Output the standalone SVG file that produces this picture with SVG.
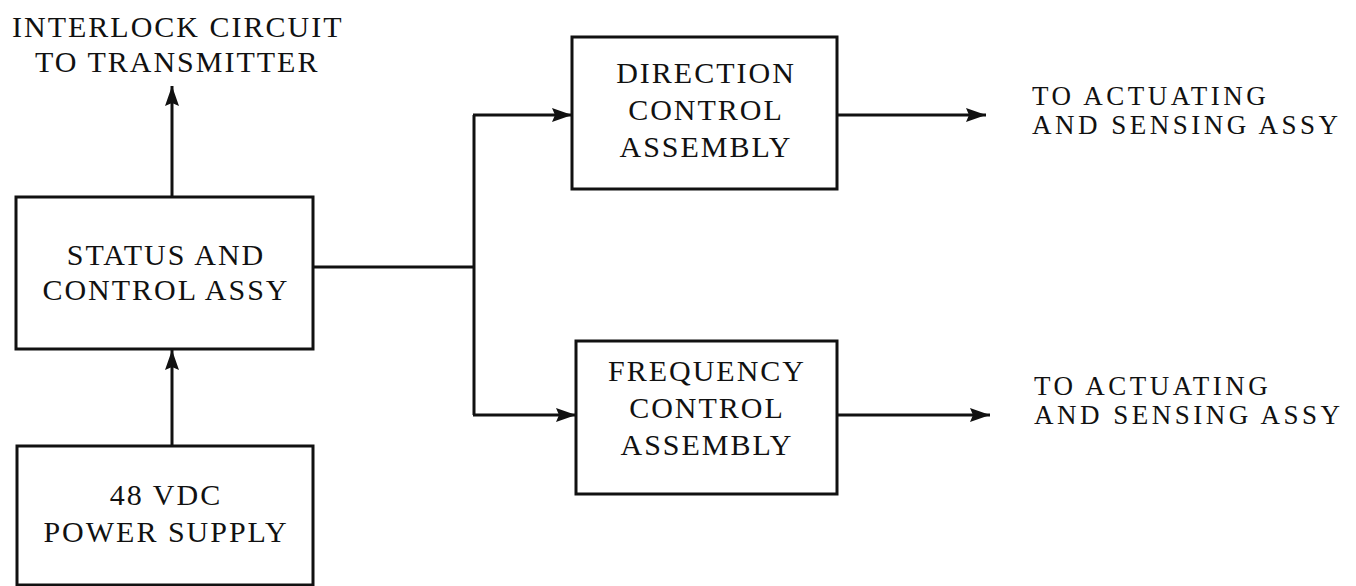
<svg xmlns="http://www.w3.org/2000/svg" width="1356" height="586" viewBox="0 0 1356 586">
<defs>
<marker id="ah" markerWidth="22" markerHeight="16" refX="20" refY="8" orient="auto" markerUnits="userSpaceOnUse">
<path d="M0,1 L20,8 L0,15 L3,8 Z" fill="#111"/>
</marker>
<style>
.box{fill:#fff;stroke:#111;stroke-width:3}
.ln{fill:none;stroke:#111;stroke-width:3}
text{font-family:"Liberation Serif","Times New Roman",serif;font-size:30px;fill:#111;letter-spacing:2px}
.c{text-anchor:middle}
.lab{font-size:27px;letter-spacing:3.5px}
</style>
</defs>
<rect width="1356" height="586" fill="#fff"/>
<g id="connectors">
<line class="ln" x1="172" y1="197" x2="172" y2="86" marker-end="url(#ah)"/>
<line class="ln" x1="172" y1="446" x2="172" y2="350" marker-end="url(#ah)"/>
<polyline class="ln" points="313,267 474,267"/>
<polyline class="ln" points="474,115 474,415"/>
<line class="ln" x1="473" y1="115" x2="572" y2="115" marker-end="url(#ah)"/>
<line class="ln" x1="473" y1="415" x2="576" y2="415" marker-end="url(#ah)"/>
<line class="ln" x1="837" y1="115" x2="986" y2="115" marker-end="url(#ah)"/>
<line class="ln" x1="837" y1="415" x2="990" y2="415" marker-end="url(#ah)"/>
</g>
<g id="interlock">
<text x="12" y="37">INTERLOCK CIRCUIT</text>
<text x="35" y="72">TO TRANSMITTER</text>
</g>
<g id="status">
<rect class="box" x="16" y="197" width="297" height="152"/>
<text class="c" x="166" y="265">STATUS AND</text>
<text class="c" x="166" y="300">CONTROL ASSY</text>
</g>
<g id="power">
<rect class="box" x="17" y="446" width="296" height="139"/>
<text class="c" x="166" y="505">48 VDC</text>
<text class="c" x="166" y="542">POWER SUPPLY</text>
</g>
<g id="direction">
<rect class="box" x="572" y="37" width="265" height="152"/>
<text class="c" x="706" y="83">DIRECTION</text>
<text class="c" x="706" y="120">CONTROL</text>
<text class="c" x="706" y="157">ASSEMBLY</text>
</g>
<g id="frequency">
<rect class="box" x="576" y="341" width="261" height="153"/>
<text class="c" x="707" y="381">FREQUENCY</text>
<text class="c" x="707" y="418">CONTROL</text>
<text class="c" x="707" y="455">ASSEMBLY</text>
</g>
<g id="out1">
<text class="lab" x="1032" y="105">TO ACTUATING</text>
<text class="lab" x="1032" y="134">AND SENSING ASSY</text>
</g>
<g id="out2">
<text class="lab" x="1034" y="395">TO ACTUATING</text>
<text class="lab" x="1034" y="424">AND SENSING ASSY</text>
</g>
</svg>
